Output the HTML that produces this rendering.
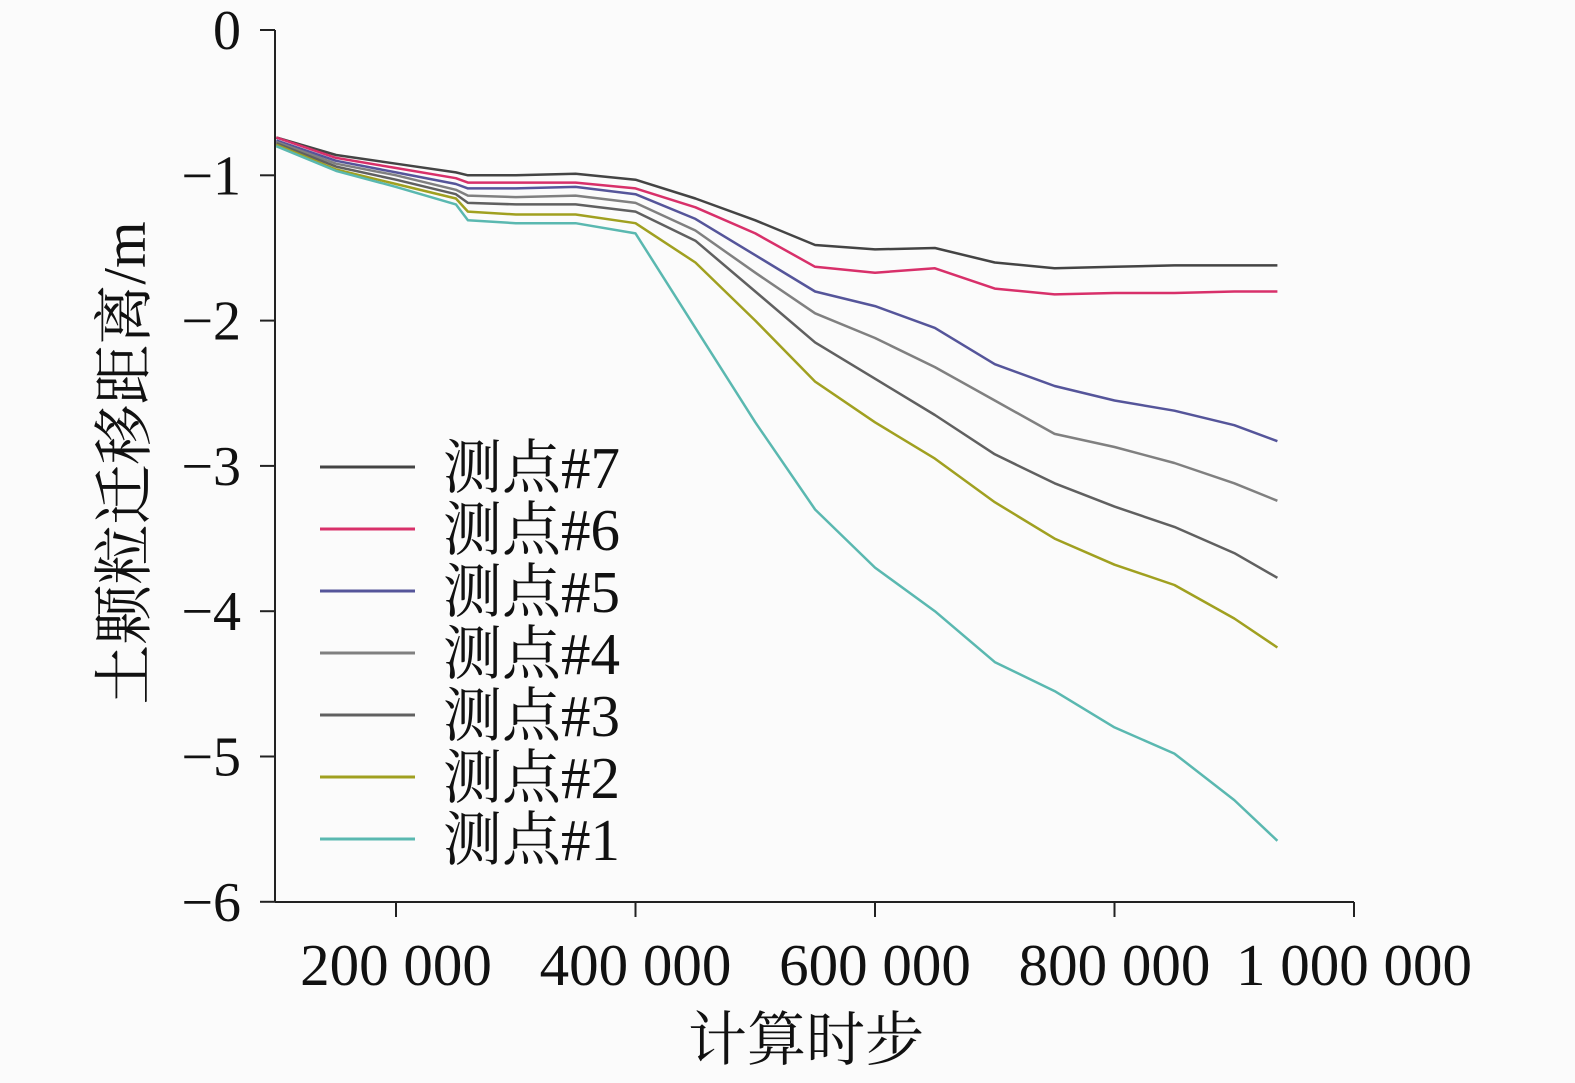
<!DOCTYPE html>
<html><head><meta charset="utf-8"><style>
html,body{margin:0;padding:0;background:#fbfbfb;}
svg{display:block;}
text{font-family:"Liberation Serif","Noto Serif CJK SC",serif;fill:#111;}
</style></head><body>
<svg id="chart" width="1575" height="1083" viewBox="0 0 1575 1083">
<rect width="1575" height="1083" fill="#fbfbfb"/>
<g id="axes"></g><g id="series"></g><g id="legend"></g>
</svg>
<script>
const steps=[100000,150000,200000,250000,260000,300000,350000,400000,450000,500000,550000,600000,650000,700000,750000,800000,850000,900000,936000];
const p7=[-0.74,-0.86,-0.92,-0.98,-1.0,-1.0,-0.99,-1.03,-1.16,-1.31,-1.48,-1.51,-1.5,-1.6,-1.64,-1.63,-1.62,-1.62,-1.62];
const p6=[-0.74,-0.88,-0.95,-1.02,-1.05,-1.05,-1.05,-1.09,-1.22,-1.40,-1.63,-1.67,-1.64,-1.78,-1.82,-1.81,-1.81,-1.80,-1.80];
const p5=[-0.76,-0.9,-0.98,-1.06,-1.09,-1.09,-1.08,-1.13,-1.3,-1.55,-1.8,-1.9,-2.05,-2.3,-2.45,-2.55,-2.62,-2.72,-2.83];
const p4=[-0.77,-0.92,-1.0,-1.1,-1.14,-1.15,-1.14,-1.19,-1.38,-1.67,-1.95,-2.12,-2.32,-2.55,-2.78,-2.87,-2.98,-3.12,-3.24];
const p3=[-0.78,-0.94,-1.03,-1.13,-1.19,-1.2,-1.2,-1.25,-1.45,-1.8,-2.15,-2.4,-2.65,-2.92,-3.12,-3.28,-3.42,-3.6,-3.77];
const p2=[-0.79,-0.96,-1.06,-1.16,-1.25,-1.27,-1.27,-1.33,-1.6,-2.0,-2.42,-2.7,-2.95,-3.25,-3.5,-3.68,-3.82,-4.05,-4.25];
const p1=[-0.8,-0.97,-1.08,-1.2,-1.31,-1.33,-1.33,-1.4,-2.05,-2.7,-3.3,-3.7,-4.0,-4.35,-4.55,-4.8,-4.98,-5.3,-5.58];
const seriesNames=["测点#7","测点#6","测点#5","测点#4","测点#3","测点#2","测点#1"];
const xTicks=[200000,400000,600000,800000,1000000];
const xTickLabels=["200 000","400 000","600 000","800 000","1 000 000"];
const yTicks=[0,-1,-2,-3,-4,-5,-6];
const yTickLabels=["0","−1","−2","−3","−4","−5","−6"];
const allSeries=[p7,p6,p5,p4,p3,p2,p1];
const colors=["#444","#d8306a","#55559a","#808080","#606060","#a0a020","#5ab8b0"];
const NS="http://www.w3.org/2000/svg";
const X=v=>396+(v-200000)/200000*239.5;
const Y=v=>30-v*145.3;
function mk(t,a,p){const e=document.createElementNS(NS,t);for(const k in a)e.setAttribute(k,a[k]);p.appendChild(e);return e;}
const ax=document.getElementById('axes');
let e=mk('line',{x1:275,y1:30,x2:275,y2:902,stroke:'#222','stroke-width':2},ax);


e=mk('line',{x1:275,y1:902,x2:1354,y2:902,stroke:'#222','stroke-width':2},ax);


yTicks.forEach((v,i)=>{
 const t=mk('line',{x1:260,y1:Y(v),x2:275,y2:Y(v),stroke:'#222','stroke-width':2},ax);
 
 
 const l=mk('text',{x:241,y:Y(v)+19,'text-anchor':'end','font-size':56},ax);
 l.textContent=yTickLabels[i];
 
 
});
xTicks.forEach((v,i)=>{
 const t=mk('line',{x1:X(v),y1:902,x2:X(v),y2:917,stroke:'#222','stroke-width':2},ax);
 
 
 const l=mk('text',{x:X(v),y:985,'text-anchor':'middle','font-size':59},ax);
 l.textContent=xTickLabels[i];
 
 
});
e=mk('text',{x:806,y:1060,'text-anchor':'middle','font-size':59},ax);
e.textContent="计算时步";


e=mk('text',{x:0,y:0,'text-anchor':'middle','font-size':60,transform:'translate(145,463) rotate(-90)'},ax);
e.textContent="土颗粒迁移距离/m";


const sg=document.getElementById('series');
allSeries.forEach((s,i)=>{
 const d=s.map((v,j)=>(j?'L':'M')+X(steps[j]).toFixed(1)+','+Y(v).toFixed(1)).join(' ');
 const p=mk('path',{d:d,fill:'none',stroke:colors[i],'stroke-width':2.5,'stroke-linejoin':'round'},sg);
 
 
});
const lg=document.getElementById('legend');
seriesNames.forEach((n,i)=>{
 const y=467+i*62;
 const g=mk('g',{},lg);
 
 
 mk('line',{x1:320,y1:y,x2:415,y2:y,stroke:colors[i],'stroke-width':3},g);
 const t=mk('text',{x:443,y:y+21,'font-size':59},g);
 t.textContent=n;
});
</script>
</body></html>
